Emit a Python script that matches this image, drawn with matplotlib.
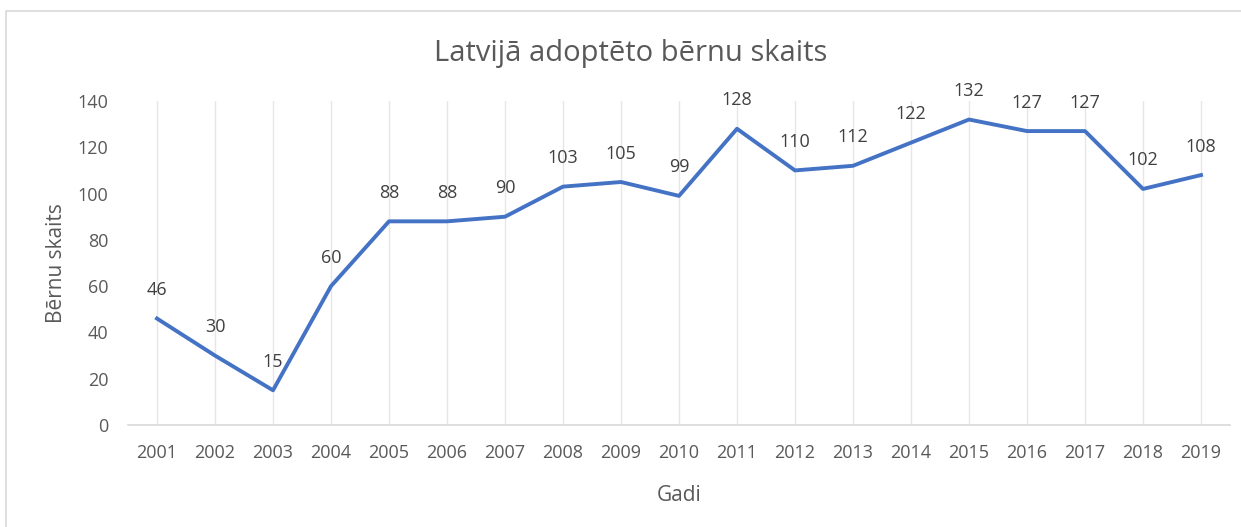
import matplotlib.pyplot as plt
from matplotlib.patches import Rectangle

plt.rcParams['font.family'] = ['Open Sans', 'DejaVu Sans']

# data
years = [str(y) for y in range(2001, 2020)]
children = [46, 30, 15, 60, 88, 88, 90, 103, 105, 99, 128, 110, 112, 122, 132, 127, 127, 102, 108]

W, H = 1241, 527
fig = plt.figure(figsize=(W / 100, H / 100), dpi=100)

# outer chart border (cropped on right/bottom)
fig.patches.append(Rectangle((6 / W, -0.1), 1.2, 1 - 11 / H + 0.1, transform=fig.transFigure,
                             fill=False, edgecolor='#d9d9d9', linewidth=1.2))

ax = fig.add_axes([128 / W, 1 - 425 / H, (1230 - 128) / W, (425 - 101) / H])

x = list(range(len(years)))
ax.plot(x, children, color='#4472C4', linewidth=2.8, solid_joinstyle='round', zorder=3)
for xi, v in zip(x, children):
    ax.annotate(str(v), (xi, v), xytext=(0, 14), textcoords='offset points',
                ha='center', va='bottom', fontsize=13, color='#404040')

ax.set_xlim(-0.5, len(years) - 0.5)
ax.set_ylim(0, 140)
ax.set_yticks(range(0, 141, 20))
ax.set_xticks(x)
ax.set_xticklabels(years)
ax.tick_params(axis='both', length=0, labelsize=13, labelcolor='#595959')
ax.tick_params(axis='x', pad=14)
ax.tick_params(axis='y', pad=14)

ax.grid(axis='x', color='#e6e6e6', linewidth=1)
ax.set_axisbelow(True)
for s in ['top', 'right', 'left']:
    ax.spines[s].set_visible(False)
ax.spines['bottom'].set_color('#d9d9d9')
ax.spines['bottom'].set_linewidth(1.2)

ax.set_xlabel('Gadi', fontsize=15, color='#595959', labelpad=16)
ax.set_ylabel('Bērnu skaits', fontsize=15, color='#595959', labelpad=8)

fig.text(631 / W, 1 - 53 / H, 'Latvijā adoptēto bērnu skaits', ha='center', va='center',
         fontsize=21, color='#595959')

fig.savefig('out.png', dpi=100, facecolor='white')
